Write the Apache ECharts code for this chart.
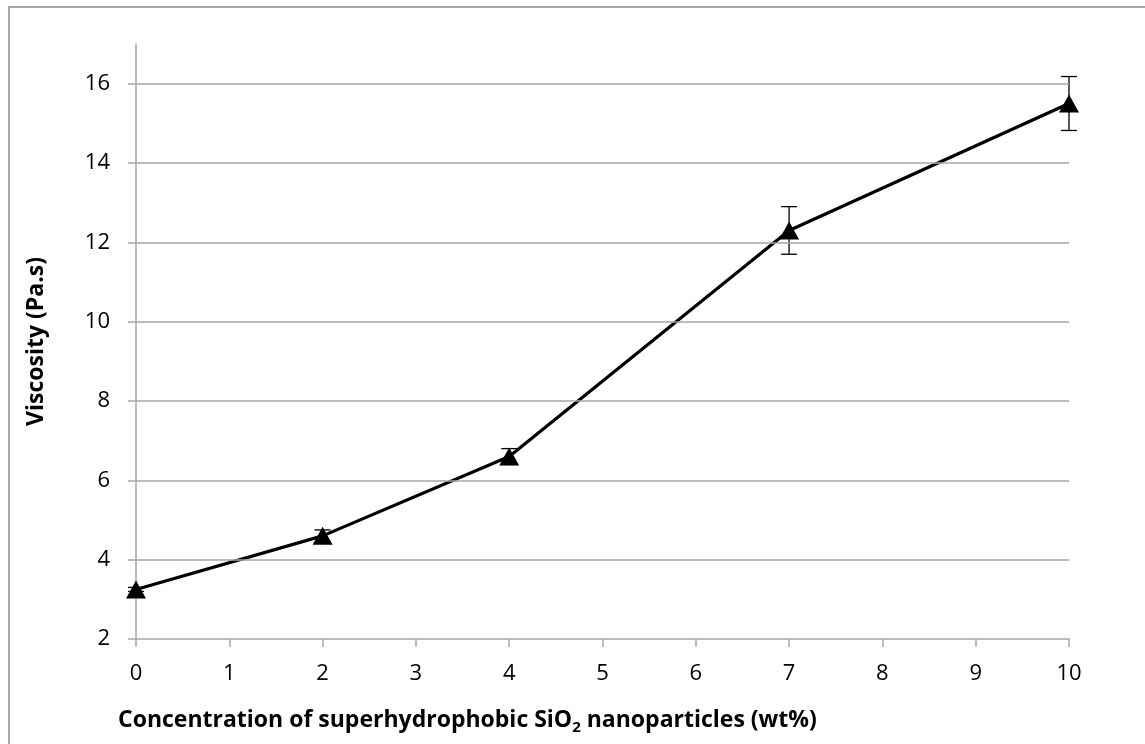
<!DOCTYPE html>
<html>
<head>
<meta charset="utf-8">
<script src="https://cdn.jsdelivr.net/npm/echarts@6/dist/echarts.min.js"></script>
<style>
  html, body { margin: 0; padding: 0; background: #fff; }
  #frame { position: absolute; left: 8px; top: 6px; width: 1135px; height: 760px;
           border-left: 2px solid #a6a6a6; border-top: 2px solid #a6a6a6; border-right: 1px solid #e6e6e6; }
  #chart { position: absolute; left: 0; top: 0; width: 1145px; height: 744px; }
</style>
</head>
<body>
<div id="frame"></div>
<div id="chart"></div>
<script>
// Viscosity vs. nanoparticle loading
const concentration = [0, 2, 4, 7, 10];          // wt%
const viscosity     = [3.25, 4.6, 6.6, 12.3, 15.5]; // Pa.s
const viscosityErr  = [0.05, 0.15, 0.2, 0.6, 0.68];
const yTicks = [2, 4, 6, 8, 10, 12, 14, 16];
const xTicks = [0, 1, 2, 3, 4, 5, 6, 7, 8, 9, 10];
const xTitleParts = ['Concentration of superhydrophobic SiO', '2', ' nanoparticles (wt%)'];
const yTitle = 'Viscosity (Pa.s)';

const gridColor = '#a6a6a6';
const font = '"Open Sans", Lato, sans-serif';

const chart = echarts.init(document.getElementById('chart'), null, { renderer: 'canvas' });

const points = concentration.map((c, i) => [c, viscosity[i]]);
const errRows = concentration.map((c, i) => [c, viscosity[i] - viscosityErr[i], viscosity[i] + viscosityErr[i]]);

chart.setOption({
  animation: false,
  grid: { left: 136, right: 76, top: 44, bottom: 105 },
  graphic: [{
    type: 'text',
    left: 118, top: 709,
    style: {
      text: '{t|' + xTitleParts[0] + '}{s|' + xTitleParts[1] + '}{t|' + xTitleParts[2] + '}',
      rich: {
        t: { fontSize: 23, fontWeight: 'bold', fill: '#000', fontFamily: font },
        s: { fontSize: 15, fontWeight: 'bold', fill: '#000', fontFamily: font, padding: [14, 0, 0, 0] }
      }
    }
  }],
  xAxis: {
    type: 'value', min: 0, max: 10, interval: 1,
    axisLine: { lineStyle: { color: gridColor, width: 1.5 } },
    axisTick: { show: true, length: 8, lineStyle: { color: gridColor, width: 1.5 }, customValues: xTicks },
    axisLabel: { color: '#000', fontSize: 22, fontFamily: font, margin: 24, customValues: xTicks },
    splitLine: { show: false }
  },
  yAxis: {
    type: 'value', min: 2, max: 17, interval: 1,
    axisLine: { show: true, lineStyle: { color: gridColor, width: 1.5 } },
    axisTick: { show: true, length: 8, lineStyle: { color: gridColor, width: 1.5 }, customValues: yTicks },
    axisLabel: { color: '#000', fontSize: 22, fontFamily: font, margin: 26, customValues: yTicks },
    splitLine: { show: false },
    name: yTitle, nameLocation: 'middle', nameGap: 88,
    nameTextStyle: { fontSize: 23, fontWeight: 'bold', color: '#000', fontFamily: font }
  },
  series: [
    {
      type: 'line',
      data: points,
      lineStyle: { color: '#000', width: 3.2 },
      itemStyle: { color: '#000' },
      symbol: 'triangle', symbolSize: [20, 18],
      z: 3,
      markLine: {
        silent: true, symbol: 'none', label: { show: false },
        lineStyle: { color: gridColor, width: 1.5, type: 'solid' },
        data: yTicks.slice(1).map(v => ({ yAxis: v }))
      }
    },
    {
      type: 'custom',
      data: errRows,
      z: 4,
      renderItem: function (params, api) {
        const x = api.value(0);
        const lo = api.coord([x, api.value(1)]);
        const hi = api.coord([x, api.value(2)]);
        const cap = 8;
        const style = { stroke: '#000', lineWidth: 1.3 };
        return {
          type: 'group',
          children: [
            { type: 'line', shape: { x1: lo[0], y1: lo[1], x2: hi[0], y2: hi[1] }, style },
            { type: 'line', shape: { x1: hi[0] - cap, y1: hi[1], x2: hi[0] + cap, y2: hi[1] }, style },
            { type: 'line', shape: { x1: lo[0] - cap, y1: lo[1], x2: lo[0] + cap, y2: lo[1] }, style }
          ]
        };
      }
    }
  ]
});
</script>
</body>
</html>
